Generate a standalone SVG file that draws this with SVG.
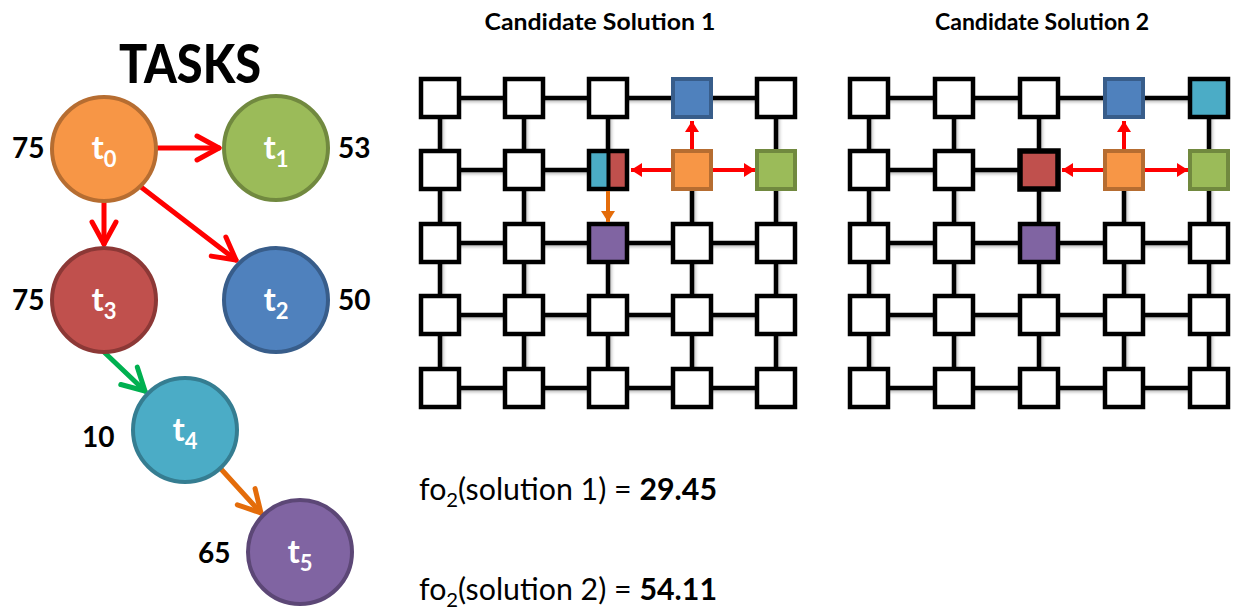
<svg xmlns="http://www.w3.org/2000/svg" width="1239" height="614" viewBox="0 0 1239 614">
  <style>
    text { font-family: Lato, "Open Sans", "Liberation Sans", sans-serif; }
    .title { font-size: 54px; font-weight: 900; fill: #000; }
    .num { font-size: 28px; font-weight: 700; fill: #000; }
    .tl { font-size: 33px; font-weight: 700; fill: #fff; text-anchor: middle; }
    .sub { font-size: 22px; }
    .head { font-size: 23px; font-weight: 700; fill: #000; text-anchor: middle; }
    .fo { font-size: 30px; fill: #000; }
    .cell { fill: #fff; stroke: #000; stroke-width: 4.5; }
    .link { stroke: #000; stroke-width: 4.5; fill: none; }
    .dep { stroke-width: 5; fill: none; stroke-linecap: round; }
    .route { stroke-width: 4; fill: none; }
  </style>
  <defs>
    <filter id="soft" x="-20%" y="-20%" width="140%" height="140%">
      <feDropShadow dx="1.5" dy="2" stdDeviation="1.5" flood-color="#000" flood-opacity="0.25"/>
    </filter>
    <!-- open chevron heads for the task dependency arrows -->
    <marker id="chevRed" markerUnits="userSpaceOnUse" viewBox="-28 -16 32 32" refX="0" refY="0" markerWidth="32" markerHeight="32" orient="auto">
      <path d="M-22,-12 L0,0 L-22,12" fill="none" stroke="#FF0000" stroke-width="5" stroke-linecap="round" stroke-linejoin="round"/>
    </marker>
    <marker id="chevGreen" markerUnits="userSpaceOnUse" viewBox="-28 -16 32 32" refX="0" refY="0" markerWidth="32" markerHeight="32" orient="auto">
      <path d="M-22,-12 L0,0 L-22,12" fill="none" stroke="#00B050" stroke-width="5" stroke-linecap="round" stroke-linejoin="round"/>
    </marker>
    <marker id="chevOrange" markerUnits="userSpaceOnUse" viewBox="-28 -16 32 32" refX="0" refY="0" markerWidth="32" markerHeight="32" orient="auto">
      <path d="M-22,-12 L0,0 L-22,12" fill="none" stroke="#E46C0A" stroke-width="5" stroke-linecap="round" stroke-linejoin="round"/>
    </marker>
    <!-- solid heads for communication routes on the mesh -->
    <marker id="triRed" markerUnits="userSpaceOnUse" viewBox="-12 -8 13 16" refX="0" refY="0" markerWidth="13" markerHeight="16" orient="auto">
      <path d="M-11,-7 L0,0 L-11,7 Z" fill="#FF0000"/>
    </marker>
    <marker id="triOrange" markerUnits="userSpaceOnUse" viewBox="-12 -8 13 16" refX="0" refY="0" markerWidth="13" markerHeight="16" orient="auto">
      <path d="M-11,-7 L0,0 L-11,7 Z" fill="#E46C0A"/>
    </marker>
  </defs>

  <rect width="1239" height="614" fill="#fff"/>

  <!-- ===== Task graph ===== -->
  <text class="title" x="190" y="83" text-anchor="middle" textLength="142" lengthAdjust="spacingAndGlyphs">TASKS</text>

  <g id="task-edges">
    <line class="dep" x1="158" y1="148" x2="219" y2="148" stroke="#FF0000" marker-end="url(#chevRed)"/>
    <line class="dep" x1="104" y1="203" x2="104" y2="244" stroke="#FF0000" marker-end="url(#chevRed)"/>
    <line class="dep" x1="141" y1="187" x2="236" y2="260" stroke="#FF0000" marker-end="url(#chevRed)"/>
    <line class="dep" x1="104" y1="352" x2="145" y2="391" stroke="#00B050" marker-end="url(#chevGreen)"/>
    <line class="dep" x1="221" y1="469" x2="261" y2="513" stroke="#E46C0A" marker-end="url(#chevOrange)"/>
  </g>

  <g id="t0">
    <circle cx="104" cy="149" r="52" fill="#F79646" stroke="#B66D31" stroke-width="4"/>
    <text class="tl" x="104" y="159">t<tspan class="sub" dy="8">0</tspan></text>
    <text class="num" x="12" y="158">75</text>
  </g>
  <g id="t1">
    <circle cx="276" cy="148" r="52" fill="#9BBB59" stroke="#71893F" stroke-width="4"/>
    <text class="tl" x="276" y="159">t<tspan class="sub" dy="8">1</tspan></text>
    <text class="num" x="338" y="158">53</text>
  </g>
  <g id="t2">
    <circle cx="276" cy="300" r="52" fill="#4F81BD" stroke="#385D8A" stroke-width="4"/>
    <text class="tl" x="276" y="311">t<tspan class="sub" dy="8">2</tspan></text>
    <text class="num" x="338" y="310">50</text>
  </g>
  <g id="t3">
    <circle cx="104" cy="300" r="52" fill="#C0504D" stroke="#8C3836" stroke-width="4"/>
    <text class="tl" x="104" y="311">t<tspan class="sub" dy="8">3</tspan></text>
    <text class="num" x="12" y="310">75</text>
  </g>
  <g id="t4">
    <circle cx="185" cy="430" r="52" fill="#4BACC6" stroke="#357D91" stroke-width="4"/>
    <text class="tl" x="185" y="441">t<tspan class="sub" dy="8">4</tspan></text>
    <text class="num" x="82" y="447">10</text>
  </g>
  <g id="t5">
    <circle cx="300" cy="552" r="52" fill="#8064A2" stroke="#5C4776" stroke-width="4"/>
    <text class="tl" x="300" y="563">t<tspan class="sub" dy="8">5</tspan></text>
    <text class="num" x="198" y="563">65</text>
  </g>

  <!-- ===== Candidate Solution 1 : 5x5 mesh ===== -->
  <text class="head" x="600" y="30" textLength="231" lengthAdjust="spacingAndGlyphs">Candidate Solution 1</text>

  <g id="mesh1-links" filter="url(#soft)">
    <!-- horizontal links, rows at y 98,170,243,315,388 -->
    <path class="link" d="M440,98 H776 M440,170 H608 M440,243 H776 M440,315 H776 M440,388 H776"/>
    <!-- vertical links -->
    <path class="link" d="M440,98 V388 M524,98 V388 M608,98 V170 M608,243 V388 M692,170 V388 M776,98 V388"/>
  </g>

  <g id="mesh1-cells">
    <!-- row 0 -->
    <rect class="cell" x="421" y="79" width="38" height="38"/>
    <rect class="cell" x="505" y="79" width="38" height="38"/>
    <rect class="cell" x="589" y="79" width="38" height="38"/>
    <rect x="673" y="79" width="38" height="38" fill="#4F81BD" stroke="#385D8A" stroke-width="4"/>
    <rect class="cell" x="757" y="79" width="38" height="38"/>
    <!-- row 1 -->
    <rect class="cell" x="421" y="151" width="38" height="38"/>
    <rect class="cell" x="505" y="151" width="38" height="38"/>
    <g id="m1-shared">
      <rect x="589" y="151" width="19" height="38" fill="#4BACC6"/>
      <rect x="608" y="151" width="19" height="38" fill="#C0504D"/>
      <line x1="608.5" y1="151" x2="608.5" y2="189" stroke="#000" stroke-width="4"/>
      <rect x="589" y="151" width="38" height="38" fill="none" stroke="#000" stroke-width="4.5"/>
    </g>
    <rect x="673" y="151" width="38" height="38" fill="#F79646" stroke="#B66D31" stroke-width="4"/>
    <rect x="757" y="151" width="38" height="38" fill="#9BBB59" stroke="#71893F" stroke-width="4"/>
    <!-- row 2 -->
    <rect class="cell" x="421" y="224" width="38" height="38"/>
    <rect class="cell" x="505" y="224" width="38" height="38"/>
    <rect x="589" y="224" width="38" height="38" fill="#8064A2" stroke="#000" stroke-width="4.5"/>
    <rect class="cell" x="673" y="224" width="38" height="38"/>
    <rect class="cell" x="757" y="224" width="38" height="38"/>
    <!-- row 3 -->
    <rect class="cell" x="421" y="296" width="38" height="38"/>
    <rect class="cell" x="505" y="296" width="38" height="38"/>
    <rect class="cell" x="589" y="296" width="38" height="38"/>
    <rect class="cell" x="673" y="296" width="38" height="38"/>
    <rect class="cell" x="757" y="296" width="38" height="38"/>
    <!-- row 4 -->
    <rect class="cell" x="421" y="369" width="38" height="38"/>
    <rect class="cell" x="505" y="369" width="38" height="38"/>
    <rect class="cell" x="589" y="369" width="38" height="38"/>
    <rect class="cell" x="673" y="369" width="38" height="38"/>
    <rect class="cell" x="757" y="369" width="38" height="38"/>
  </g>

  <g id="mesh1-routes">
    <line class="route" x1="692" y1="149" x2="692" y2="121" stroke="#FF0000" marker-end="url(#triRed)"/>
    <line class="route" x1="671" y1="170" x2="631" y2="170" stroke="#FF0000" marker-end="url(#triRed)"/>
    <line class="route" x1="713" y1="170" x2="755" y2="170" stroke="#FF0000" marker-end="url(#triRed)"/>
    <line class="route" x1="608" y1="191" x2="608" y2="222" stroke="#E46C0A" marker-end="url(#triOrange)"/>
  </g>

  <!-- ===== Candidate Solution 2 : 5x5 mesh ===== -->
  <text class="head" x="1042" y="30" textLength="214" lengthAdjust="spacingAndGlyphs">Candidate Solution 2</text>

  <g id="mesh2-links" filter="url(#soft)">
    <path class="link" d="M869,98 H1209 M869,170 H1039 M869,243 H1209 M869,315 H1209 M869,388 H1209"/>
    <path class="link" d="M869,98 V388 M954,98 V388 M1039,98 V388 M1124,170 V388 M1209,98 V388"/>
  </g>

  <g id="mesh2-cells">
    <!-- row 0 -->
    <rect class="cell" x="850" y="79" width="38" height="38"/>
    <rect class="cell" x="935" y="79" width="38" height="38"/>
    <rect class="cell" x="1020" y="79" width="38" height="38"/>
    <rect x="1105" y="79" width="38" height="38" fill="#4F81BD" stroke="#385D8A" stroke-width="4"/>
    <rect x="1190" y="79" width="38" height="38" fill="#4BACC6" stroke="#000" stroke-width="4.5"/>
    <!-- row 1 -->
    <rect class="cell" x="850" y="151" width="38" height="38"/>
    <rect class="cell" x="935" y="151" width="38" height="38"/>
    <rect x="1020" y="151" width="38" height="38" fill="#C0504D" stroke="#000" stroke-width="5.5"/>
    <rect x="1105" y="151" width="38" height="38" fill="#F79646" stroke="#B66D31" stroke-width="4"/>
    <rect x="1190" y="151" width="38" height="38" fill="#9BBB59" stroke="#71893F" stroke-width="4"/>
    <!-- row 2 -->
    <rect class="cell" x="850" y="224" width="38" height="38"/>
    <rect class="cell" x="935" y="224" width="38" height="38"/>
    <rect x="1020" y="224" width="38" height="38" fill="#8064A2" stroke="#000" stroke-width="4.5"/>
    <rect class="cell" x="1105" y="224" width="38" height="38"/>
    <rect class="cell" x="1190" y="224" width="38" height="38"/>
    <!-- row 3 -->
    <rect class="cell" x="850" y="296" width="38" height="38"/>
    <rect class="cell" x="935" y="296" width="38" height="38"/>
    <rect class="cell" x="1020" y="296" width="38" height="38"/>
    <rect class="cell" x="1105" y="296" width="38" height="38"/>
    <rect class="cell" x="1190" y="296" width="38" height="38"/>
    <!-- row 4 -->
    <rect class="cell" x="850" y="369" width="38" height="38"/>
    <rect class="cell" x="935" y="369" width="38" height="38"/>
    <rect class="cell" x="1020" y="369" width="38" height="38"/>
    <rect class="cell" x="1105" y="369" width="38" height="38"/>
    <rect class="cell" x="1190" y="369" width="38" height="38"/>
  </g>

  <g id="mesh2-routes">
    <line class="route" x1="1124" y1="149" x2="1124" y2="121" stroke="#FF0000" marker-end="url(#triRed)"/>
    <line class="route" x1="1103" y1="170" x2="1062" y2="170" stroke="#FF0000" marker-end="url(#triRed)"/>
    <line class="route" x1="1145" y1="170" x2="1188" y2="170" stroke="#FF0000" marker-end="url(#triRed)"/>
  </g>

  <!-- ===== Objective values ===== -->
  <g id="scores">
    <text class="fo" x="419" y="500" textLength="298" lengthAdjust="spacingAndGlyphs">fo<tspan font-size="20" dy="7">2</tspan><tspan dy="-7">(solution 1) = </tspan><tspan font-weight="700">29.45</tspan></text>
    <text class="fo" x="419" y="600" textLength="298" lengthAdjust="spacingAndGlyphs">fo<tspan font-size="20" dy="7">2</tspan><tspan dy="-7">(solution 2) = </tspan><tspan font-weight="700">54.11</tspan></text>
  </g>
</svg>
